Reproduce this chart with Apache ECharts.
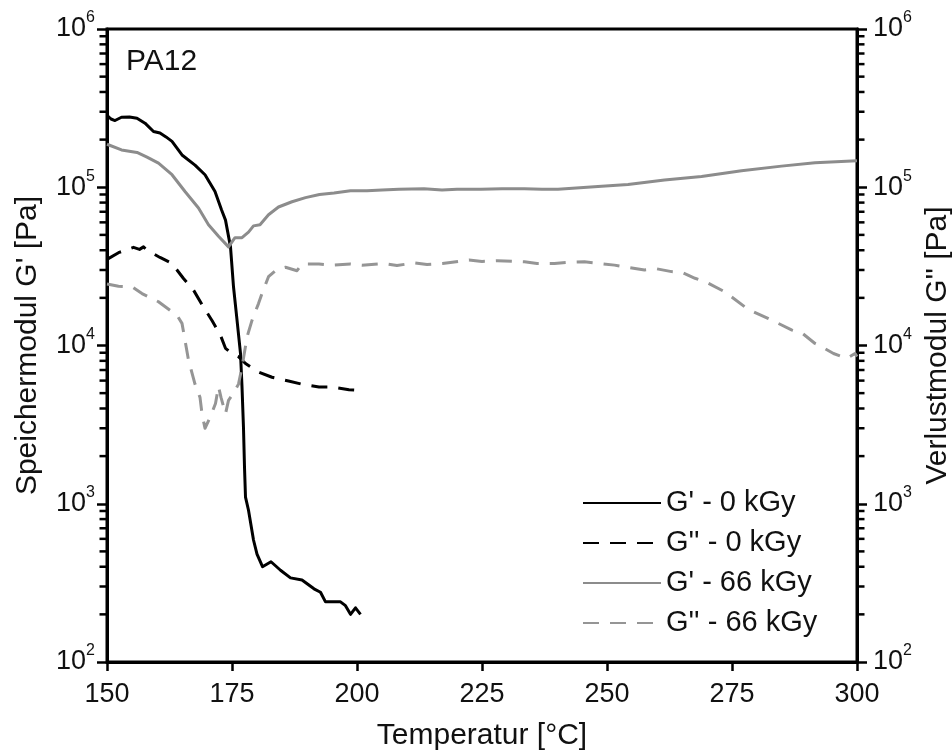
<!DOCTYPE html>
<html>
<head>
<meta charset="utf-8">
<script src="https://cdn.jsdelivr.net/npm/echarts@6/dist/echarts.min.js"></script>
<style>html,body{margin:0;padding:0;background:#fff;}#c{width:952px;height:753px;}</style>
</head>
<body>
<div id="c"></div>
<script>
// ---- data (temperature °C, modulus Pa) ----
const seriesNames = ["G' - 0 kGy", "G'' - 0 kGy", "G' - 66 kGy", "G'' - 66 kGy"];

const gPrime0 = [
  [150.0,2.85e5],[150.8,2.70e5],[151.6,2.64e5],[152.9,2.77e5],[154.5,2.78e5],[156.0,2.73e5],
  [157.6,2.54e5],[159.3,2.25e5],[160.6,2.20e5],[161.8,2.08e5],[163.0,1.95e5],[165.0,1.60e5],
  [167.6,1.38e5],[169.6,1.20e5],[171.6,9.4e4],[172.9,7.2e4],[173.7,6.2e4],[174.7,4.2e4],
  [175.3,2.35e4],[176.0,1.45e4],[176.7,8.9e3],[177.0,5.5e3],[177.3,3.0e3],[177.5,1.7e3],
  [177.7,1.1e3],[178.3,9.1e2],[179.3,5.9e2],[180.0,4.8e2],[181.1,4.0e2],[182.8,4.3e2],
  [184.7,3.8e2],[186.7,3.4e2],[189.0,3.3e2],[191.4,2.9e2],[192.7,2.76e2],[193.7,2.4e2],
  [196.7,2.4e2],[197.7,2.27e2],[198.7,2.0e2],[199.7,2.2e2],[200.7,2.0e2]
];

const gDouble0 = [
  [150.0,3.5e4],[152.3,3.86e4],[155.3,4.17e4],[156.5,4.05e4],[157.3,4.2e4],[158.0,4.0e4],
  [160.6,3.6e4],[163.0,3.3e4],[165.3,2.65e4],[167.3,2.24e4],[169.3,1.75e4],[171.0,1.44e4],
  [172.7,1.16e4],[173.7,9.6e3],[175.0,8.9e3],[176.3,8.5e3],[177.7,7.7e3],[180.3,6.8e3],
  [183.0,6.3e3],[186.3,5.97e3],[189.0,5.69e3],[192.4,5.47e3],[195.0,5.47e3],[198.4,5.26e3],
  [201.0,5.2e3]
];

const gPrime66 = [
  [150.0,1.87e5],[152.9,1.72e5],[156.0,1.66e5],[158.0,1.55e5],[160.3,1.42e5],[163.0,1.20e5],
  [165.6,9.4e4],[168.3,7.4e4],[170.3,5.8e4],[172.3,4.9e4],[174.3,4.2e4],[175.6,4.8e4],
  [177.0,4.8e4],[178.3,5.2e4],[179.3,5.7e4],[180.6,5.8e4],[182.3,6.7e4],[184.3,7.5e4],
  [187.0,8.1e4],[189.7,8.6e4],[192.5,9.0e4],[195.4,9.2e4],[198.7,9.5e4],[202.0,9.5e4],
  [205.0,9.6e4],[208.4,9.7e4],[213.4,9.8e4],[217.0,9.6e4],[220.0,9.7e4],[224.8,9.7e4],
  [229.0,9.8e4],[233.5,9.8e4],[237.0,9.7e4],[240.2,9.7e4],[248.2,1.01e5],[254.2,1.04e5],
  [261.5,1.11e5],[268.9,1.17e5],[276.9,1.27e5],[284.9,1.36e5],[291.6,1.43e5],[300.0,1.47e5]
];

const gDouble66 = [
  [150.0,2.45e4],[152.3,2.37e4],[155.0,2.35e4],[157.0,2.13e4],[160.3,1.89e4],[162.6,1.67e4],
  [164.0,1.55e4],[165.0,1.38e4],[165.6,1.08e4],[166.3,8.1e3],[167.6,5.7e3],[168.6,4.7e3],
  [169.0,3.7e3],[169.6,3.0e3],[170.6,3.5e3],[171.7,4.3e3],[172.3,5.5e3],[172.8,4.7e3],
  [173.7,3.7e3],[174.3,4.5e3],[175.3,5.0e3],[176.3,5.7e3],[177.0,7.3e3],[178.0,1.13e4],
  [179.0,1.44e4],[180.3,1.84e4],[181.0,2.13e4],[182.3,2.72e4],[184.0,3.03e4],[185.7,3.12e4],
  [188.0,2.97e4],[189.0,3.27e4],[192.4,3.27e4],[195.0,3.22e4],[198.7,3.27e4],[201.0,3.22e4],
  [205.4,3.3e4],[208.0,3.2e4],[211.4,3.33e4],[214.0,3.25e4],[217.1,3.3e4],[222.4,3.47e4],
  [225.0,3.4e4],[228.1,3.43e4],[233.5,3.38e4],[236.0,3.3e4],[239.5,3.3e4],[242.0,3.35e4],
  [245.5,3.38e4],[251.5,3.22e4],[257.5,3.0e4],[260.0,3.05e4],[262.9,2.93e4],[265.0,2.9e4],
  [267.6,2.66e4],[270.0,2.5e4],[273.6,2.18e4],[277.6,1.75e4],[279.0,1.65e4],[282.3,1.48e4],
  [287.0,1.25e4],[289.0,1.2e4],[291.6,1.03e4],[293.0,9.8e3],[295.3,8.9e3],[298.0,8.3e3],
  [299.6,8.9e3],[300.0,8.5e3]
];

// ---- axes ----
const xMin = 150, xMax = 300, xStep = 25;
const yMin = 1e2, yMax = 1e6;
const yMinorTicks = [
  200,300,400,500,600,700,800,900,
  2000,3000,4000,5000,6000,7000,8000,9000,
  20000,30000,40000,50000,60000,70000,80000,90000,
  200000,300000,400000,500000,600000,700000,800000,900000
];

const FONT = "'Liberation Sans', Arial, Helvetica, sans-serif";
const BLACK = '#000';
const GRAY = '#8c8c8c';
const GRAY_D = '#959595';

function powLabel(v) {
  const e = Math.round(Math.log10(v));
  return '{a|10}{b|' + e + '}';
}
const powRich = {
  a: { fontSize: 27, fontFamily: FONT, color: '#111' },
  b: { fontSize: 16, fontFamily: FONT, color: '#111', padding: [0, 0, 22, 0] }
};

function majorY(pos, name, margin) {
  return {
    type: 'log', logBase: 10, min: yMin, max: yMax, position: pos, gridIndex: 0,
    name: name, nameLocation: 'middle', nameGap: 64, nameRotate: 90,
    nameTextStyle: { fontSize: 30, fontFamily: FONT, color: '#111' },
    axisLine: { show: true, lineStyle: { color: BLACK, width: 3 } },
    axisTick: { show: true, inside: false, length: 10, lineStyle: { color: BLACK, width: 2.5 } },
    axisLabel: { show: true, margin: margin, formatter: powLabel, rich: powRich },
    splitLine: { show: false }, minorTick: { show: false }
  };
}

function lineSeries(name, data, color, width, dashed, yIdx) {
  return {
    name: name, type: 'line', data: data, xAxisIndex: 0, yAxisIndex: yIdx,
    symbol: 'none', showSymbol: false, smooth: false,
    lineStyle: { color: color, width: width, type: dashed ? [16, 11] : 'solid', cap: 'butt', join: 'round' },
    itemStyle: { color: color },
    z: 3
  };
}

function minorTickSeries(xVal, offset) {
  return {
    type: 'scatter', xAxisIndex: 0, yAxisIndex: 0, clip: false, silent: true,
    data: yMinorTicks.map(v => [xVal, v]),
    symbol: 'rect', symbolSize: [7, 2.5], symbolOffset: [offset, 0],
    itemStyle: { color: BLACK, opacity: 1 }, z: 5,
    emphasis: { disabled: true }
  };
}

const chart = echarts.init(document.getElementById('c'), null, { renderer: 'canvas' });
chart.setOption({
  animation: false,
  backgroundColor: '#fff',
  textStyle: { fontFamily: FONT },
  title: {
    text: 'PA12', left: 121, top: 42,
    textStyle: { fontSize: 30, fontWeight: 'normal', fontFamily: FONT, color: '#111' }
  },
  grid: {
    left: 107, right: 95, top: 29, bottom: 91, containLabel: false,
    outerBoundsMode: 'none',
    show: true, borderColor: BLACK, borderWidth: 3, backgroundColor: 'transparent'
  },
  legend: {
    orient: 'vertical', left: 582, top: 488, padding: 0,
    data: seriesNames,
    itemWidth: 78, itemHeight: 14, itemGap: 10,
    itemStyle: { opacity: 0 },
    textStyle: { fontSize: 29, fontFamily: FONT, color: '#111', lineHeight: 30 },
    selectedMode: false
  },
  xAxis: {
    type: 'value', min: xMin, max: xMax, interval: xStep,
    name: 'Temperatur [°C]', nameLocation: 'middle', nameGap: 59,
    nameTextStyle: { fontSize: 30, fontFamily: FONT, color: '#111' },
    axisLine: { show: true, onZero: false, lineStyle: { color: BLACK, width: 3 } },
    axisTick: { show: true, inside: false, length: 9, lineStyle: { color: BLACK, width: 2.5 } },
    axisLabel: { fontSize: 27, fontFamily: FONT, color: '#111', margin: 19 },
    splitLine: { show: false }
  },
  yAxis: [
    majorY('left', "Speichermodul G' [Pa]", 12),
    majorY('right', "Verlustmodul G'' [Pa]", 16)
  ],
  series: [
    lineSeries(seriesNames[0], gPrime0, BLACK, 3, false, 0),
    lineSeries(seriesNames[1], gDouble0, BLACK, 3, true, 1),
    lineSeries(seriesNames[2], gPrime66, GRAY, 3, false, 0),
    lineSeries(seriesNames[3], gDouble66, GRAY_D, 3, true, 1),
    minorTickSeries(xMin, -4),
    minorTickSeries(xMax, 4)
  ]
});
</script>
</body>
</html>
